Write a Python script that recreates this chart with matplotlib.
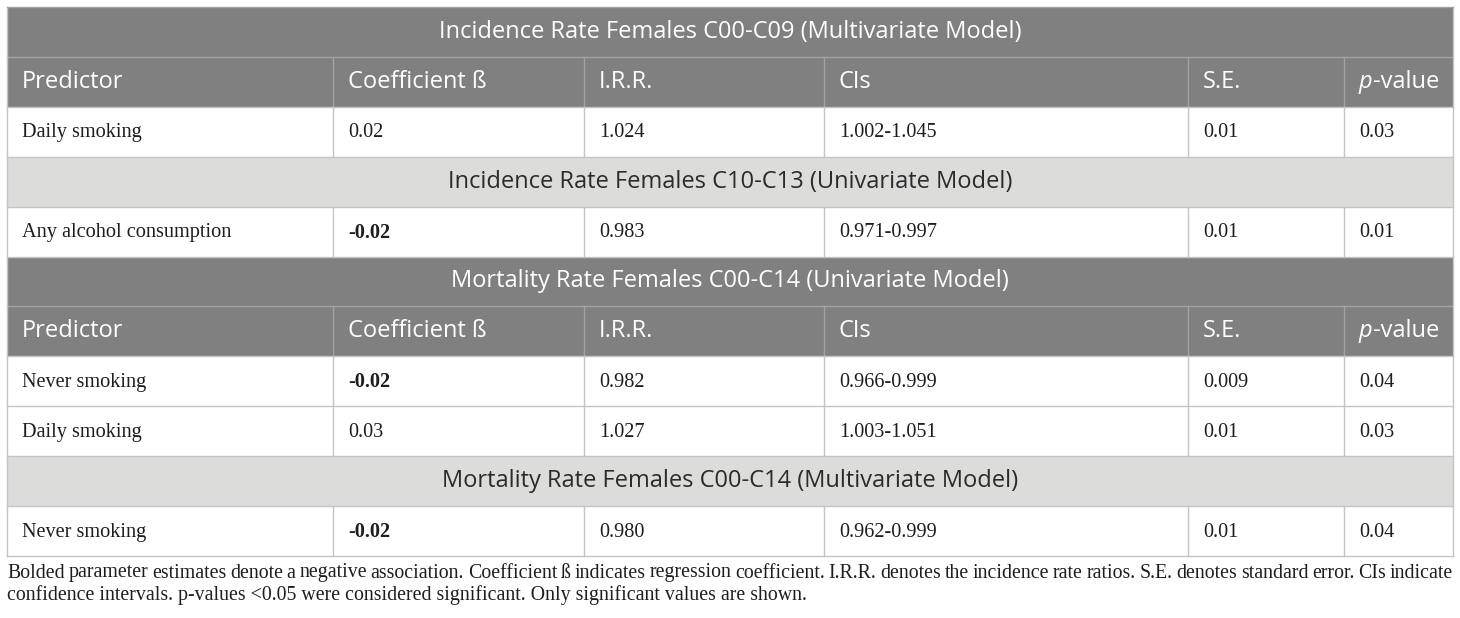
import matplotlib
matplotlib.use("Agg")
import matplotlib.pyplot as plt
from matplotlib.patches import Rectangle

# table content
section_titles = [
    "Incidence Rate Females C00-C09 (Multivariate Model)",
    "Incidence Rate Females C10-C13 (Univariate Model)",
    "Mortality Rate Females C00-C14 (Univariate Model)",
    "Mortality Rate Females C00-C14 (Multivariate Model)",
]
section_dark = [True, False, True, False]
section_rows = [[0], [1], [2, 3], [4]]

columns = ["Predictor", "Coefficient ß", "I.R.R.", "CIs", "S.E.", "p-value"]
predictors = ["Daily smoking", "Any alcohol consumption", "Never smoking", "Daily smoking", "Never smoking"]
coefs = ["0.02", "-0.02", "-0.02", "0.03", "-0.02"]
irr = ["1.024", "0.983", "0.982", "1.027", "0.980"]
cis = ["1.002-1.045", "0.971-0.997", "0.966-0.999", "1.003-1.051", "0.962-0.999"]
se = ["0.01", "0.01", "0.009", "0.01", "0.01"]
pvals = ["0.03", "0.01", "0.04", "0.03", "0.04"]

footnote1 = ("Bolded parameter estimates denote a negative association. Coefficient ß indicates regression "
             "coefficient. I.R.R. denotes the incidence rate ratios. S.E. denotes standard error. CIs indicate")
footnote2 = "confidence intervals. p-values <0.05 were considered significant. Only significant values are shown."

W, H = 1460, 618
fig = plt.figure(figsize=(W / 100, H / 100), dpi=100)
ax = fig.add_axes([0, 0, 1, 1])
ax.set_xlim(0, W)
ax.set_ylim(H, 0)
ax.axis("off")

left, right = 7, 1453
col_x = [7, 333, 584, 824, 1188, 1344, 1453]
top = 7
row_h = (556 - 7) / 11
pad = 15

dark = "#808080"
light = "#dcdcdb"
grid = "#c4c4c4"
dark_line = "#a3a3a3"
sans = "Open Sans"
serif = "Liberation Serif"
hsize = 17
dsize = 14.6

y = top
for title, is_dark, rows in zip(section_titles, section_dark, section_rows):
    # section title row
    ax.add_patch(Rectangle((left, y), right - left, row_h, facecolor=dark if is_dark else light,
                           edgecolor="none", zorder=1))
    ax.text((left + right) / 2, y + row_h / 2, title, ha="center", va="center", family=sans,
            fontsize=hsize, color="white" if is_dark else "#2b2b2b", zorder=3)
    ax.plot([left, right], [y + row_h, y + row_h], color=dark_line if is_dark else grid, lw=1, zorder=2)
    y += row_h
    if is_dark:
        ax.add_patch(Rectangle((left, y), right - left, row_h, facecolor=dark, edgecolor="none", zorder=1))
        for cx in col_x[1:-1]:
            ax.plot([cx, cx], [y, y + row_h], color=dark_line, lw=1, zorder=2)
        for i, name in enumerate(columns):
            if name == "p-value":
                t = ax.text(col_x[i] + pad, y + row_h / 2, "p", ha="left", va="center", family=sans,
                            style="italic", fontsize=hsize, color="white", zorder=3)
                fig.canvas.draw()
                bb = t.get_window_extent()
                ax.text(col_x[i] + pad + bb.width, y + row_h / 2, "-value", ha="left", va="center",
                        family=sans, fontsize=hsize, color="white", zorder=3)
            else:
                ax.text(col_x[i] + pad, y + row_h / 2, name, ha="left", va="center", family=sans,
                        fontsize=hsize, color="white", zorder=3)
        ax.plot([left, right], [y + row_h, y + row_h], color=grid, lw=1, zorder=2)
        y += row_h
    for r in rows:
        vals = [predictors[r], coefs[r], irr[r], cis[r], se[r], pvals[r]]
        for cx in col_x[1:-1]:
            ax.plot([cx, cx], [y, y + row_h], color=grid, lw=1, zorder=2)
        for i, v in enumerate(vals):
            bold = (i == 1 and v.startswith("-"))
            ax.text(col_x[i] + pad, y + row_h / 2 + 1, v, ha="left", va="center", family=serif,
                    fontsize=dsize, weight="bold" if bold else "normal", color="#1e1e1e", zorder=3)
        ax.plot([left, right], [y + row_h, y + row_h], color=grid, lw=1, zorder=2)
        y += row_h

# outer border
ax.plot([left, left], [top, y], color=grid, lw=1, zorder=2)
ax.plot([right, right], [top, y], color=grid, lw=1, zorder=2)
ax.plot([left, right], [top, top], color=dark_line, lw=1, zorder=2)

# footnote, first line justified
fsize = 14.3
fig.canvas.draw()
renderer = fig.canvas.get_renderer()
words = footnote1.split(" ")
widths = []
for w in words:
    t = ax.text(0, 0, w, family=serif, fontsize=fsize)
    widths.append(t.get_window_extent(renderer).width)
    t.remove()
gap = (right - left - sum(widths)) / (len(words) - 1)
x = left
for w, wd in zip(words, widths):
    ax.text(x, 573, w, ha="left", va="center", family=serif, fontsize=fsize, color="#1e1e1e")
    x += wd + gap
ax.text(left, 595, footnote2, ha="left", va="center", family=serif, fontsize=fsize, color="#1e1e1e")

fig.savefig("out.png", dpi=100)
